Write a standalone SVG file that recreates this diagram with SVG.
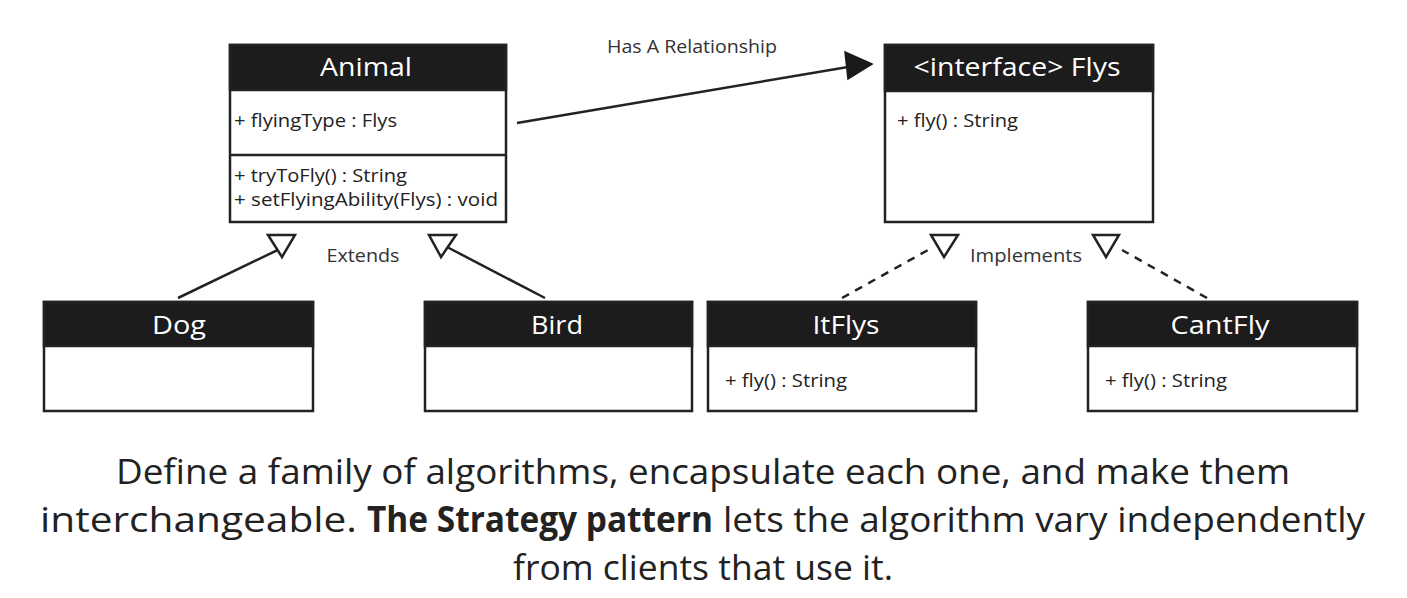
<svg xmlns="http://www.w3.org/2000/svg" width="1407" height="598" viewBox="0 0 1407 598">
<style>
.box{fill:#fff;stroke:#222;stroke-width:2.5}
.hdr{fill:#1c1c1c;stroke:#222;stroke-width:2.5}
.sep{stroke:#222;stroke-width:2.5}
.title{font-family:"Open Sans","Liberation Sans",sans-serif;font-size:26px;fill:#fff;text-anchor:middle}
.mem{font-family:"Open Sans","Liberation Sans",sans-serif;font-size:18px;fill:#222}
.lbl{font-family:"Open Sans","Liberation Sans",sans-serif;font-size:18px;fill:#333;text-anchor:middle}
.cap{font-family:"Open Sans","Liberation Sans",sans-serif;font-size:35px;fill:#222}
.line{stroke:#222;stroke-width:2.5;fill:none}
.dash{stroke:#222;stroke-width:2.5;fill:none;stroke-dasharray:8 7}
.tri{fill:#fff;stroke:#222;stroke-width:2.5;stroke-linejoin:miter}
</style>
<rect width="1407" height="598" fill="#fff"/>
<g id="connectors">
  <line class="line" x1="517" y1="123" x2="848" y2="67"/>
  <polygon points="872,64 845,52 848,79" fill="#1a1a1a" stroke="#1a1a1a" stroke-width="1.5"/>
  <line class="line" x1="178" y1="298" x2="286" y2="246"/>
  <polygon class="tri" points="268,235 295,235 282,257"/>
  <line class="line" x1="545" y1="298" x2="447" y2="247"/>
  <polygon class="tri" points="429,235 456,235 441,257"/>
  <line class="dash" x1="842" y1="298" x2="928" y2="250"/>
  <polygon class="tri" points="931,235 958,235 944,257"/>
  <line class="dash" x1="1207" y1="298" x2="1122" y2="250"/>
  <polygon class="tri" points="1093,235 1119,235 1106,257"/>
  <text class="lbl" x="692" y="53" textLength="170" lengthAdjust="spacingAndGlyphs">Has A Relationship</text>
  <text class="lbl" x="363" y="262" textLength="73" lengthAdjust="spacingAndGlyphs">Extends</text>
  <text class="lbl" x="1026" y="262" textLength="112" lengthAdjust="spacingAndGlyphs">Implements</text>
</g>
<g id="animal">
  <rect class="box" x="230" y="45" width="276" height="177"/>
  <rect class="hdr" x="230" y="45" width="276" height="45"/>
  <line class="sep" x1="230" y1="155" x2="506" y2="155"/>
  <text class="title" x="366" y="76" textLength="92" lengthAdjust="spacingAndGlyphs">Animal</text>
  <text class="mem" x="234" y="127" textLength="163" lengthAdjust="spacingAndGlyphs">+ flyingType : Flys</text>
  <text class="mem" x="234" y="182" textLength="173" lengthAdjust="spacingAndGlyphs">+ tryToFly() : String</text>
  <text class="mem" x="234" y="206" textLength="264" lengthAdjust="spacingAndGlyphs">+ setFlyingAbility(Flys) : void</text>
</g>
<g id="flys">
  <rect class="box" x="885" y="45" width="268" height="177"/>
  <rect class="hdr" x="885" y="45" width="268" height="46"/>
  <text class="title" x="1017" y="76" textLength="207" lengthAdjust="spacingAndGlyphs">&lt;interface&gt; Flys</text>
  <text class="mem" x="897" y="127" textLength="121" lengthAdjust="spacingAndGlyphs">+ fly() : String</text>
</g>
<g id="dog">
  <rect class="box" x="44" y="302" width="269" height="109"/>
  <rect class="hdr" x="44" y="302" width="269" height="44"/>
  <text class="title" x="179" y="334" textLength="54" lengthAdjust="spacingAndGlyphs">Dog</text>
</g>
<g id="bird">
  <rect class="box" x="425" y="302" width="267" height="109"/>
  <rect class="hdr" x="425" y="302" width="267" height="44"/>
  <text class="title" x="557" y="334" textLength="52" lengthAdjust="spacingAndGlyphs">Bird</text>
</g>
<g id="itflys">
  <rect class="box" x="708" y="302" width="268" height="109"/>
  <rect class="hdr" x="708" y="302" width="268" height="44"/>
  <text class="title" x="846" y="334" textLength="67" lengthAdjust="spacingAndGlyphs">ItFlys</text>
  <text class="mem" x="725" y="387" textLength="122" lengthAdjust="spacingAndGlyphs">+ fly() : String</text>
</g>
<g id="cantfly">
  <rect class="box" x="1088" y="302" width="269" height="109"/>
  <rect class="hdr" x="1088" y="302" width="269" height="44"/>
  <text class="title" x="1220" y="334" textLength="99" lengthAdjust="spacingAndGlyphs">CantFly</text>
  <text class="mem" x="1105" y="387" textLength="122" lengthAdjust="spacingAndGlyphs">+ fly() : String</text>
</g>
<g id="caption">
  <text class="cap" x="116" y="484" textLength="1174" lengthAdjust="spacingAndGlyphs">Define a family of algorithms, encapsulate each one, and make them</text>
  <text class="cap" x="40" y="532" textLength="317" lengthAdjust="spacingAndGlyphs">interchangeable.</text>
  <text class="cap" x="367" y="532" font-weight="bold" textLength="346" lengthAdjust="spacingAndGlyphs">The Strategy pattern</text>
  <text class="cap" x="723" y="532" textLength="642" lengthAdjust="spacingAndGlyphs">lets the algorithm vary independently</text>
  <text class="cap" x="513" y="580" textLength="380" lengthAdjust="spacingAndGlyphs">from clients that use it.</text>
</g>
</svg>
